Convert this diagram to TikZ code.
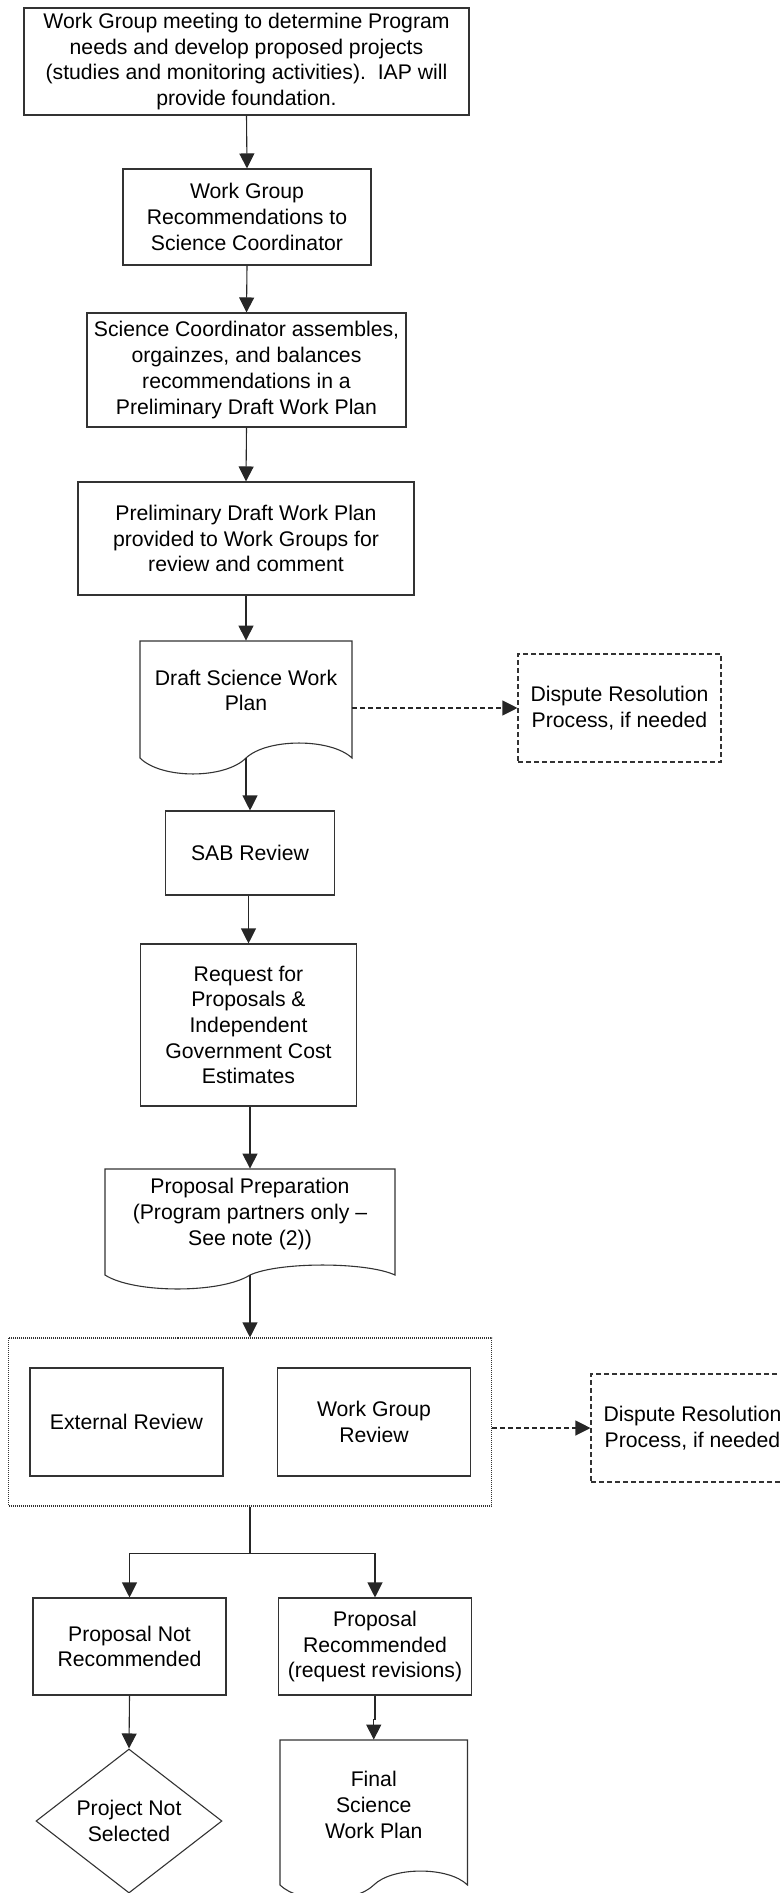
\documentclass[tikz,border=0pt]{standalone}
\usepackage{fontspec}
\setmainfont{Liberation Sans}
\usetikzlibrary{arrows.meta,shapes.geometric}
\newcommand\docpath[6]{%
  \draw[lineclr] (#1,#4) -- (#1,#2) -- (#3,#2) -- (#3,#4)
    .. controls ({#3-0.1*(#3-#1)},{#4-1.33*#6}) and ({#3-0.4*(#3-#1)},{#4-1.33*#6}) .. ({0.5*(#1+#3)},#4)
    .. controls ({#1+0.4*(#3-#1)},{#4+1.33*#5}) and ({#1+0.1*(#3-#1)},{#4+1.33*#5}) .. (#1,#4) -- cycle;}
\begin{document}
\begin{tikzpicture}[x=0.5pt,y=-0.5pt,
  every node/.style={font=\fontsize{10.6pt}{12.85pt}\selectfont, align=center, inner sep=0pt},
  lineclr/.style={draw=black!80, line width=0.55pt},
  sz/.style 2 args={minimum width={#1*0.5pt}, minimum height={#2*0.5pt}},
  box/.style={rectangle, lineclr},
  dispbox/.style={rectangle, lineclr, dash pattern=on 2.5pt off 1.5pt},
  groupbox/.style={rectangle, lineclr, dash pattern=on 0.5pt off 0.5pt},
  docnode/.style={rectangle, draw=none},
  arr/.style={draw=black!85, line width=0.55pt, -{Triangle[length=7.5pt,width=7.5pt]}},
  darr/.style={arr, dash pattern=on 2.5pt off 1.5pt},
  plain/.style={draw=black!85, line width=0.55pt}
]
\useasboundingbox (0,0) rectangle (780,1893);
\clip (0,0) rectangle (780,1893);

\node[box, sz={445}{107}] (n1) at (246.5,61.5)
  {Work Group meeting to determine Program\\needs and develop proposed projects\\(studies and monitoring activities).\ \ IAP will\\provide foundation.};
\node[box, sz={248}{96}] (n2) at (247,217)
  {Work Group\\Recommendations to\\Science Coordinator};
\node[box, sz={319}{114}] (n3) at (246.5,370)
  {Science Coordinator assembles,\\orgainzes, and balances\\recommendations in a\\Preliminary Draft Work Plan};
\node[box, sz={336}{113}] (n4) at (246,538.5)
  {Preliminary Draft Work Plan\\provided to Work Groups for\\review and comment};

\node[docnode, sz={212}{117}, label={[yshift=4.5pt]center:{Draft Science Work\\Plan}}] (doc1) at (246,699.5) {};
\docpath{140}{641}{352}{758}{16}{15}

\node[dispbox, sz={203}{108}] (disp1) at (619.5,708)
  {Dispute Resolution\\Process, if needed};

\node[box, sz={169}{84}] (sab) at (250,853) {SAB Review};
\node[box, sz={216}{162}] (rfp) at (248.5,1025)
  {Request for\\Proposals \&\\Independent\\Government Cost\\Estimates};

\node[docnode, sz={290}{106}, label={[yshift=4pt]center:{Proposal Preparation\\(Program partners only --\\See note (2))}}] (doc2) at (250,1222) {};
\docpath{105}{1169}{395}{1275}{14}{10}

\node[groupbox, sz={483}{168}] (outer) at (250,1422) {};
\node[box, sz={193}{108}] (ext) at (126.5,1422) {External Review};
\node[box, sz={193}{108}] (wgr) at (374,1422) {Work Group\\Review};

\node[dispbox, sz={203}{108}] (disp2) at (692.5,1428)
  {Dispute Resolution\\Process, if needed};

\node[box, sz={193}{97}] (pnr) at (129.5,1646.5) {Proposal Not\\Recommended};
\node[box, sz={192.5}{97}] (pr) at (375,1646.5) {Proposal\\Recommended\\(request revisions)};

\node[diamond, lineclr, aspect=1.29, minimum width=93pt, minimum height=72pt] (dia) at (129,1821)
  {Project Not\\Selected};

\node[docnode, sz={187.5}{145}, label={[yshift=3.75pt]center:{Final\\Science\\Work Plan}}] (doc3) at (373.75,1812.5) {};
\docpath{280}{1740}{467.5}{1885}{14}{14}

% connectors
\draw[arr] (n1.south) -- (n2.north);
\draw[arr] (n2.south) -- (n3.north);
\draw[arr] (n3.south) -- (n4.north);
\draw[arr] (n4.south) -- (doc1.north);
\draw[darr] (disp1.west -| doc1.east) -- (disp1.west);
\draw[arr] (doc1.south) -- ++(0,39) -| (sab.north);
\draw[arr] (rfp.north |- sab.south) -- (rfp.north);
\draw[arr] (doc2.north |- rfp.south) -- (doc2.north);
\draw[arr] (doc2.south) -- (outer.north);
\draw[darr] (disp2.west -| outer.east) -- (disp2.west);
\draw[plain] (outer.south) -- ++(0,47) coordinate (split);
\draw[arr] (split) -| (pnr.north);
\draw[arr] (split) -| (pr.north);
\draw[arr] (pnr.south) -- (dia.north);
\draw[arr] (pr.south) -- ++(0,24) -| (doc3.north);
\end{tikzpicture}
\end{document}
